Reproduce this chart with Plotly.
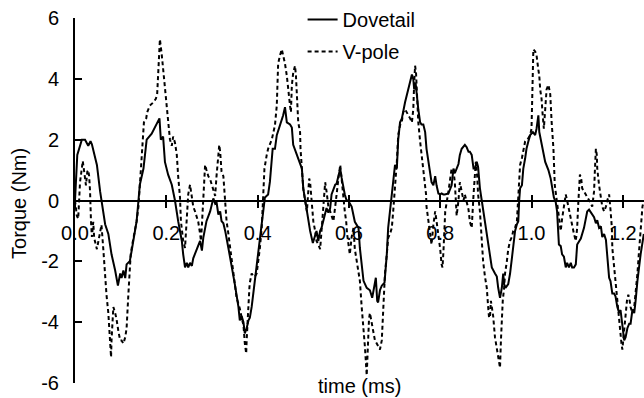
import plotly.graph_objects as go

# ---- data (time in ms, torque in Nm) ----
dovetail_time = [0.000, 0.005, 0.015, 0.022, 0.029, 0.034, 0.037, 0.048, 0.055, 0.058, 0.066, 0.073, 0.080, 0.088, 0.094, 0.099, 0.102, 0.106, 0.110, 0.113, 0.120, 0.124, 0.131, 0.135, 0.139, 0.142, 0.150, 0.157, 0.168, 0.175, 0.185, 0.188, 0.193, 0.197, 0.204, 0.212, 0.219, 0.226, 0.234, 0.237, 0.241, 0.245, 0.248, 0.252, 0.256, 0.259, 0.267, 0.274, 0.278, 0.281, 0.288, 0.296, 0.303, 0.307, 0.310, 0.314, 0.318, 0.321, 0.325, 0.329, 0.336, 0.343, 0.350, 0.358, 0.361, 0.365, 0.369, 0.372, 0.376, 0.380, 0.383, 0.387, 0.394, 0.402, 0.409, 0.416, 0.423, 0.427, 0.433, 0.438, 0.442, 0.449, 0.456, 0.460, 0.464, 0.471, 0.475, 0.478, 0.486, 0.493, 0.497, 0.500, 0.504, 0.508, 0.515, 0.521, 0.526, 0.529, 0.533, 0.537, 0.540, 0.548, 0.551, 0.555, 0.559, 0.562, 0.566, 0.570, 0.573, 0.577, 0.581, 0.584, 0.588, 0.591, 0.595, 0.599, 0.602, 0.606, 0.613, 0.621, 0.624, 0.632, 0.639, 0.646, 0.651, 0.655, 0.659, 0.662, 0.664, 0.668, 0.672, 0.678, 0.683, 0.686, 0.692, 0.697, 0.701, 0.705, 0.708, 0.712, 0.716, 0.723, 0.727, 0.730, 0.734, 0.738, 0.741, 0.743, 0.746, 0.749, 0.752, 0.756, 0.759, 0.763, 0.767, 0.770, 0.774, 0.778, 0.781, 0.785, 0.789, 0.792, 0.796, 0.800, 0.803, 0.807, 0.810, 0.818, 0.825, 0.829, 0.832, 0.836, 0.840, 0.843, 0.847, 0.854, 0.858, 0.862, 0.865, 0.869, 0.873, 0.876, 0.880, 0.883, 0.887, 0.891, 0.894, 0.898, 0.905, 0.909, 0.913, 0.920, 0.924, 0.927, 0.931, 0.935, 0.938, 0.940, 0.943, 0.949, 0.953, 0.957, 0.960, 0.964, 0.968, 0.971, 0.973, 0.975, 0.979, 0.982, 0.986, 0.989, 0.993, 0.997, 1.003, 1.008, 1.011, 1.015, 1.017, 1.022, 1.030, 1.037, 1.042, 1.049, 1.053, 1.056, 1.060, 1.064, 1.067, 1.071, 1.075, 1.078, 1.082, 1.086, 1.089, 1.093, 1.097, 1.100, 1.104, 1.108, 1.115, 1.122, 1.126, 1.130, 1.133, 1.137, 1.141, 1.144, 1.148, 1.152, 1.155, 1.159, 1.163, 1.166, 1.170, 1.173, 1.177, 1.181, 1.184, 1.188, 1.192, 1.195, 1.199, 1.203, 1.206, 1.210, 1.214, 1.217, 1.221, 1.225, 1.228, 1.232, 1.239, 1.243, 1.246]
dovetail_torque = [0.0, 1.5, 2.0, 2.0, 1.8, 1.95, 1.85, 1.17, 0.3, 0.0, -0.78, -1.1, -1.77, -2.3, -2.8, -2.4, -2.55, -2.3, -2.55, -2.1, -2.0, -1.66, -1.1, -0.68, 0.0, 0.52, 1.05, 2.0, 2.2, 2.4, 2.7, 2.0, 2.1, 1.27, 0.85, 0.52, 0.0, -0.68, -1.33, -1.77, -2.2, -2.05, -2.2, -2.05, -2.15, -1.9, -1.56, -1.33, -1.65, -1.23, -0.68, -0.36, 0.07, -0.1, -0.05, -0.46, -0.36, -0.68, -0.75, -1.0, -1.56, -2.1, -2.74, -3.5, -3.94, -3.8, -4.0, -4.37, -4.2, -3.94, -3.85, -3.5, -2.64, -1.77, -0.9, 0.1, 0.2, 0.62, 1.7, 1.7, 2.15, 2.47, 2.8, 3.07, 2.57, 2.5, 2.4, 1.83, 1.5, 1.17, 1.05, 0.4, 0.0, -0.46, -1.0, -1.4, -1.1, -1.0, -1.33, -1.0, -0.9, -0.36, -0.25, -0.4, -0.25, 0.2, 0.4, 0.52, 0.55, 0.85, 1.05, 0.75, 0.4, 0.2, 0.0, 0.0, -0.1, -0.2, -0.7, -0.9, -1.56, -2.64, -2.87, -2.95, -3.2, -2.9, -2.54, -3.3, -3.35, -2.95, -2.8, -2.7, -1.77, -0.9, 0.0, 0.72, 1.17, 1.05, 2.0, 2.57, 2.7, 3.23, 3.45, 3.65, 3.88, 4.14, 4.0, 3.65, 3.88, 3.33, 3.0, 2.57, 2.5, 2.5, 2.25, 1.7, 1.27, 0.95, 0.6, 0.5, 0.8, 0.5, 0.23, 0.2, 0.23, 0.2, 0.2, 0.23, 0.5, 1.05, 0.9, 1.05, 1.2, 1.5, 1.7, 1.83, 1.75, 1.6, 1.6, 1.5, 1.05, 1.05, 1.27, 1.1, 0.4, 0.0, -0.3, -0.68, -1.3, -1.77, -2.2, -2.4, -2.5, -2.87, -3.2, -2.87, -2.4, -2.75, -2.87, -2.75, -2.4, -1.9, -1.56, -1.0, -0.78, -0.68, 0.0, 0.4, 0.5, 1.05, 1.38, 1.7, 1.94, 2.15, 2.25, 2.15, 2.36, 2.8, 2.25, 1.83, 1.27, 1.0, 0.72, 0.1, -0.05, -0.36, -1.45, -1.5, -1.77, -1.85, -2.2, -2.05, -2.2, -2.05, -2.2, -2.2, -2.1, -1.45, -1.35, -1.25, -0.9, -0.36, -0.3, -0.4, -0.45, -0.55, -0.75, -0.65, -0.9, -0.85, -1.2, -1.1, -1.3, -1.77, -2.54, -2.65, -3.06, -3.06, -3.15, -3.5, -3.7, -3.6, -4.05, -4.6, -4.5, -4.2, -4.05, -4.05, -3.6, -3.7, -3.3, -2.64, -1.77, -1.45, -1.1]

vpole_time = [0.000, 0.004, 0.007, 0.011, 0.017, 0.020, 0.024, 0.027, 0.029, 0.031, 0.033, 0.035, 0.037, 0.040, 0.042, 0.048, 0.055, 0.058, 0.062, 0.066, 0.069, 0.073, 0.077, 0.079, 0.080, 0.083, 0.084, 0.088, 0.091, 0.095, 0.099, 0.102, 0.106, 0.110, 0.113, 0.117, 0.119, 0.122, 0.126, 0.131, 0.135, 0.139, 0.142, 0.145, 0.146, 0.148, 0.151, 0.156, 0.158, 0.164, 0.172, 0.177, 0.180, 0.182, 0.185, 0.186, 0.190, 0.193, 0.197, 0.201, 0.204, 0.208, 0.212, 0.215, 0.219, 0.223, 0.226, 0.230, 0.232, 0.235, 0.237, 0.241, 0.243, 0.245, 0.248, 0.252, 0.256, 0.259, 0.263, 0.267, 0.270, 0.274, 0.276, 0.278, 0.281, 0.285, 0.288, 0.292, 0.296, 0.299, 0.303, 0.307, 0.310, 0.314, 0.316, 0.318, 0.321, 0.325, 0.329, 0.332, 0.336, 0.340, 0.343, 0.347, 0.350, 0.354, 0.358, 0.361, 0.365, 0.369, 0.372, 0.375, 0.376, 0.378, 0.380, 0.382, 0.383, 0.387, 0.391, 0.394, 0.398, 0.402, 0.405, 0.409, 0.412, 0.415, 0.420, 0.423, 0.431, 0.434, 0.438, 0.442, 0.443, 0.445, 0.449, 0.453, 0.456, 0.460, 0.464, 0.467, 0.471, 0.473, 0.475, 0.478, 0.482, 0.484, 0.486, 0.488, 0.489, 0.493, 0.494, 0.497, 0.500, 0.504, 0.508, 0.511, 0.513, 0.515, 0.517, 0.519, 0.522, 0.526, 0.529, 0.533, 0.537, 0.540, 0.544, 0.546, 0.548, 0.551, 0.555, 0.559, 0.562, 0.566, 0.570, 0.573, 0.577, 0.581, 0.584, 0.588, 0.591, 0.594, 0.596, 0.599, 0.602, 0.606, 0.610, 0.613, 0.617, 0.621, 0.624, 0.628, 0.632, 0.635, 0.639, 0.642, 0.644, 0.646, 0.650, 0.653, 0.657, 0.661, 0.664, 0.668, 0.672, 0.675, 0.678, 0.679, 0.683, 0.686, 0.690, 0.694, 0.697, 0.699, 0.701, 0.703, 0.705, 0.708, 0.712, 0.716, 0.719, 0.723, 0.727, 0.730, 0.734, 0.738, 0.741, 0.743, 0.745, 0.747, 0.749, 0.751, 0.752, 0.756, 0.759, 0.763, 0.767, 0.769, 0.770, 0.774, 0.778, 0.781, 0.785, 0.789, 0.792, 0.796, 0.800, 0.803, 0.805, 0.807, 0.809, 0.811, 0.818, 0.825, 0.829, 0.832, 0.836, 0.840, 0.843, 0.847, 0.851, 0.854, 0.858, 0.862, 0.865, 0.869, 0.873, 0.876, 0.878, 0.881, 0.883, 0.887, 0.891, 0.894, 0.898, 0.902, 0.905, 0.907, 0.909, 0.911, 0.913, 0.916, 0.920, 0.924, 0.927, 0.931, 0.933, 0.935, 0.937, 0.940, 0.942, 0.946, 0.949, 0.953, 0.957, 0.960, 0.964, 0.968, 0.971, 0.973, 0.975, 0.979, 0.982, 0.986, 0.989, 0.993, 0.997, 1.000, 1.002, 1.004, 1.008, 1.011, 1.015, 1.017, 1.019, 1.022, 1.024, 1.027, 1.030, 1.033, 1.037, 1.041, 1.044, 1.048, 1.051, 1.055, 1.058, 1.060, 1.064, 1.067, 1.071, 1.075, 1.078, 1.082, 1.086, 1.089, 1.093, 1.097, 1.100, 1.102, 1.104, 1.106, 1.109, 1.111, 1.115, 1.119, 1.122, 1.126, 1.130, 1.133, 1.137, 1.139, 1.141, 1.143, 1.144, 1.148, 1.152, 1.155, 1.159, 1.163, 1.166, 1.170, 1.173, 1.176, 1.177, 1.181, 1.184, 1.188, 1.192, 1.194, 1.197, 1.199, 1.201, 1.203, 1.205, 1.209, 1.212, 1.214, 1.217, 1.221, 1.225, 1.228, 1.232, 1.235, 1.239, 1.243, 1.246]
vpole_torque = [0.0, -0.5, -0.6, 0.6, 1.3, 1.0, 0.5, 0.95, 1.0, 0.8, 0.3, -0.68, -1.2, -0.7, -1.23, -1.6, -1.0, -0.8, -1.6, -2.6, -3.1, -3.7, -4.6, -5.15, -4.6, -3.9, -3.5, -3.7, -3.9, -4.3, -4.6, -4.6, -4.7, -4.5, -4.2, -3.06, -2.35, -1.77, -1.4, -1.0, -0.68, -0.2, 0.5, 1.27, 1.7, 2.25, 2.57, 2.7, 2.9, 3.12, 3.23, 3.34, 3.5, 4.1, 5.2, 5.3, 4.8, 4.3, 3.8, 3.0, 2.4, 2.0, 1.8, 2.1, 1.9, 1.5, 0.8, 0.1, -0.68, -1.0, -1.33, -1.56, -1.0, -0.4, 0.2, 0.52, 0.0, -0.2, -0.36, -0.55, -0.7, -1.1, -1.33, -0.8, 0.2, 1.17, 1.0, 0.8, 0.7, 0.55, 0.3, 0.15, 0.8, 1.5, 1.83, 1.6, 0.95, 0.8, 0.0, -0.68, -1.1, -1.56, -2.0, -2.4, -2.75, -3.2, -3.4, -3.55, -3.85, -4.1, -4.7, -5.03, -4.6, -3.85, -3.5, -2.87, -2.7, -2.4, -2.5, -2.5, -2.4, -2.0, -1.56, -0.9, 0.0, 1.05, 1.5, 1.7, 2.0, 2.25, 2.47, 3.12, 4.1, 4.5, 4.77, 4.97, 4.77, 4.5, 4.1, 3.6, 3.12, 2.9, 3.78, 4.2, 4.43, 4.1, 3.45, 3.0, 2.57, 2.25, 1.7, 1.05, 0.4, 0.0, -0.36, 0.3, 0.72, 0.6, 0.2, -0.3, -0.68, -1.0, -1.33, -1.45, -1.6, -1.0, -0.2, 0.52, 0.6, 0.3, -0.2, -0.36, -0.5, -0.68, -0.2, 0.3, 0.72, 1.17, 0.6, 0.1, -0.36, -0.68, -1.1, -1.45, -1.77, -1.2, -0.9, -1.6, -2.0, -2.3, -2.64, -3.5, -4.17, -4.8, -5.75, -4.6, -3.9, -3.7, -4.0, -4.3, -4.6, -4.7, -4.8, -4.9, -4.6, -3.8, -3.06, -2.4, -1.77, -1.23, -1.1, -0.9, -0.36, 0.0, 0.4, 0.85, 1.27, 2.15, 2.47, 2.6, 2.9, 3.0, 2.9, 2.8, 2.7, 2.57, 3.0, 3.88, 4.43, 4.2, 3.65, 3.1, 2.57, 1.94, 1.5, 0.95, 0.4, 0.2, -0.2, -0.68, -1.0, -1.45, -0.8, -0.36, -0.68, -1.1, -1.6, -2.1, -2.2, -1.7, -0.8, -0.36, 0.3, 1.05, 1.0, 0.6, -0.5, 0.0, 0.6, 0.3, 0.0, 0.2, -0.1, -0.3, -0.7, -0.9, 0.2, 1.05, 1.27, 0.8, 0.2, -0.36, -1.33, -2.0, -2.5, -2.87, -3.5, -3.85, -3.85, -3.3, -3.5, -3.8, -4.5, -4.9, -5.25, -5.5, -4.6, -3.85, -3.3, -2.87, -2.4, -2.0, -1.6, -1.33, -1.2, -1.0, -0.9, -0.68, 0.2, 0.85, 1.17, 1.4, 1.7, 1.94, 2.0, 2.05, 2.15, 2.36, 3.65, 4.97, 4.9, 4.77, 4.3, 4.1, 3.65, 3.34, 2.9, 2.36, 3.0, 3.65, 3.8, 3.5, 2.6, 1.7, 0.5, 0.0, -0.3, -0.68, -1.0, -0.6, -0.1, 0.2, 0.0, -0.3, -0.6, -0.9, -1.1, -1.33, -0.9, -0.2, 0.4, 0.85, 0.7, 0.4, 0.3, 0.2, 0.1, 0.0, -0.1, -0.2, 0.3, 1.05, 1.7, 1.5, 1.05, 0.5, 0.1, -0.2, -0.36, -0.2, 0.0, 0.2, -0.3, -0.9, -1.56, -2.2, -2.87, -3.5, -3.94, -4.37, -4.7, -4.9, -4.6, -4.2, -3.8, -3.3, -3.1, -3.2, -3.5, -3.7, -3.5, -3.06, -2.4, -1.77, -0.9, -0.2, 0.0]

x_tick_vals = [0.0, 0.2, 0.4, 0.6, 0.8, 1.0, 1.2]
x_tick_text = ["0.0", "0.2", "0.4", "0.6", "0.8", "1.0", "1.2"]
y_tick_vals = [-6, -4, -2, 0, 2, 4, 6]
y_tick_text = ["-6", "-4", "-2", "0", "2", "4", "6"]

FONT = "Arial, Liberation Sans, sans-serif"

fig = go.Figure()
fig.add_trace(go.Scatter(x=dovetail_time, y=dovetail_torque, mode="lines", name="Dovetail",
                         legendgroup="a", line=dict(color="black", width=2)))
fig.add_trace(go.Scatter(x=vpole_time, y=vpole_torque, mode="lines", name="V-pole",
                         legendgroup="b", line=dict(color="black", width=2, dash="4px,3px")))
# invisible helper trace for the second x-axis (upward tick marks)
fig.add_trace(go.Scatter(x=[0.0], y=[0.0], xaxis="x2", mode="lines", showlegend=False,
                         hoverinfo="skip", line=dict(width=0)))

x_range = [0, 1.2464]
fig.update_layout(
    width=644, height=398,
    margin=dict(l=75, r=0, t=15, b=15),
    paper_bgcolor="white", plot_bgcolor="white",
    font=dict(family=FONT, size=20, color="black"),
    showlegend=True,
    legend=dict(x=0.40, y=1.05, xanchor="left", yanchor="top",
                bgcolor="rgba(0,0,0,0)", borderwidth=0,
                font=dict(family=FONT, size=20, color="black"),
                itemwidth=30, tracegroupgap=3),
    xaxis=dict(range=x_range, anchor="free", position=0.5,
               showline=True, linecolor="black", linewidth=2,
               ticks="outside", ticklen=6, tickwidth=2, tickcolor="black",
               tickvals=x_tick_vals, ticktext=x_tick_text,
               ticklabelstandoff=8,
               showgrid=False, zeroline=False,
               tickfont=dict(family=FONT, size=20, color="black")),
    xaxis2=dict(range=x_range, overlaying="x", anchor="free", position=0.5, side="bottom",
                showline=False, ticks="inside", ticklen=6, tickwidth=2, tickcolor="black",
                tickvals=x_tick_vals, showticklabels=False,
                showgrid=False, zeroline=False),
    yaxis=dict(range=[-6, 6], showline=True, linecolor="black", linewidth=2,
               ticks="inside", ticklen=7, tickwidth=2, tickcolor="black",
               tickvals=y_tick_vals, ticktext=y_tick_text, ticklabelstandoff=10,
               showgrid=False, zeroline=False,
               tickfont=dict(family=FONT, size=20, color="black")),
    annotations=[
        dict(text="time (ms)", xref="paper", yref="paper", x=0.5, y=-0.008,
             xanchor="center", yanchor="middle", showarrow=False,
             font=dict(family=FONT, size=20, color="black")),
        dict(text="Torque (Nm)", xref="paper", yref="paper", x=-0.0975, y=0.492,
             xanchor="center", yanchor="middle", textangle=-90, showarrow=False,
             font=dict(family=FONT, size=20, color="black")),
    ],
)

fig.write_html("out.html")
